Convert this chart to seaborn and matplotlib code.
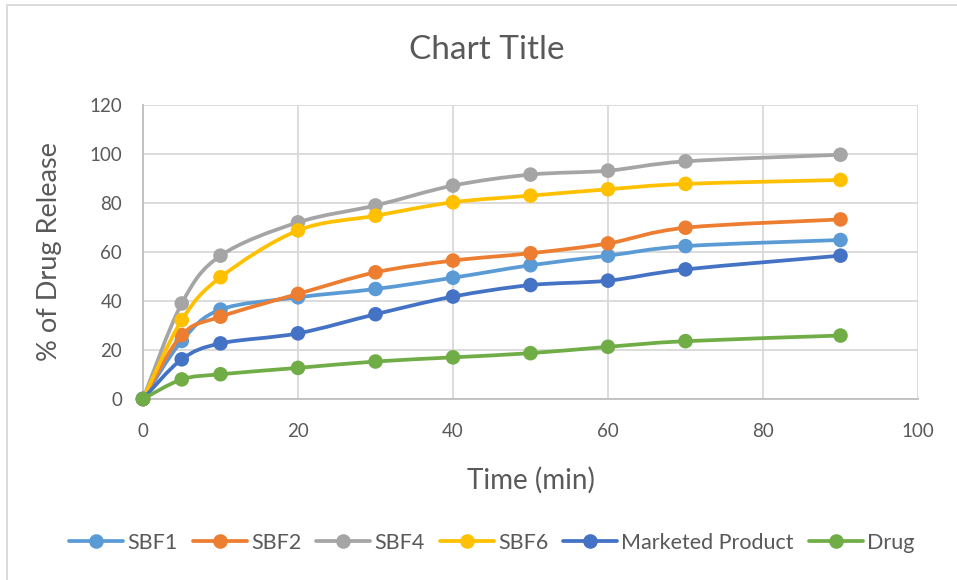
import numpy as np
import pandas as pd
import seaborn as sns
import matplotlib
matplotlib.use("Agg")
import matplotlib.pyplot as plt
from matplotlib.path import Path
from matplotlib.patches import PathPatch
from matplotlib.lines import Line2D

# Dissolution data: time points (min) and % drug released per formulation
time_min = [0, 5, 10, 20, 30, 40, 50, 60, 70, 90]
sbf1 = [0, 23.7, 36.5, 41.5, 44.9, 49.5, 54.6, 58.5, 62.4, 64.9]
sbf2 = [0, 26.1, 33.6, 42.9, 51.7, 56.5, 59.5, 63.5, 69.9, 73.3]
sbf4 = [0, 39.0, 58.5, 72.1, 79.0, 87.1, 91.6, 93.2, 97.0, 99.7]
sbf6 = [0, 32.2, 49.7, 68.8, 74.8, 80.3, 83.0, 85.6, 87.8, 89.4]
marketed = [0, 16.2, 22.7, 26.8, 34.6, 41.8, 46.5, 48.3, 52.9, 58.5]
drug = [0, 8.0, 10.1, 12.7, 15.3, 17.0, 18.7, 21.3, 23.6, 25.9]

series_names = ["SBF1", "SBF2", "SBF4", "SBF6", "Marketed Product", "Drug"]
series_values = [sbf1, sbf2, sbf4, sbf6, marketed, drug]
series_colors = ["#5B9BD5", "#ED7D31", "#A5A5A5", "#FFC000", "#4472C4", "#70AD47"]

x_ticks = [0, 20, 40, 60, 80, 100]
y_ticks = [0, 20, 40, 60, 80, 100, 120]

df = pd.DataFrame(
    [(t, v, name) for name, vals in zip(series_names, series_values)
     for t, v in zip(time_min, vals)],
    columns=["Time (min)", "Release", "Series"],
)

sns.set_theme(style="white")
plt.rcParams["font.family"] = ["Lato", "DejaVu Sans"]
text_color = "#595959"
grid_color = "#D9D9D9"

fig = plt.figure(figsize=(9.57, 5.8), dpi=100)
ax = fig.add_axes([143 / 957, 1 - 399 / 580, 775 / 957, 294 / 580])


def smooth_path(xs, ys):
    """Catmull-Rom style cubic Bezier through the points (Excel smoothed line)."""
    pts = np.column_stack([xs, ys]).astype(float)
    n = len(pts)
    verts = [pts[0]]
    codes = [Path.MOVETO]
    for i in range(n - 1):
        p0 = pts[i - 1] if i > 0 else pts[i]
        p1 = pts[i]
        p2 = pts[i + 1]
        p3 = pts[i + 2] if i + 2 < n else pts[i + 1]
        c1 = p1 + (p2 - p0) / 6.0
        c2 = p2 - (p3 - p1) / 6.0
        verts += [c1, c2, p2]
        codes += [Path.CURVE4] * 3
    return Path(verts, codes)


for i, (name, color) in enumerate(zip(series_names, series_colors)):
    sub = df[df["Series"] == name]
    patch = PathPatch(smooth_path(sub["Time (min)"], sub["Release"]),
                      facecolor="none", edgecolor=color, lw=2.7,
                      capstyle="round", joinstyle="round", zorder=3 + 2 * i,
                      clip_on=False)
    ax.add_patch(patch)
    sns.scatterplot(data=sub, x="Time (min)", y="Release", color=color,
                    s=110, edgecolor="none", linewidth=0, ax=ax,
                    zorder=4 + 2 * i, legend=False, clip_on=False)

ax.set_xlim(0, 100)
ax.set_ylim(0, 120)
ax.set_xticks(x_ticks)
ax.set_yticks(y_ticks)
ax.grid(True, color=grid_color, lw=1.3, zorder=0)
ax.set_axisbelow(True)
for side in ["top", "right"]:
    ax.spines[side].set_visible(False)
for side in ["left", "bottom"]:
    ax.spines[side].set_color("#BFBFBF")
    ax.spines[side].set_linewidth(1.3)
ax.tick_params(axis="both", length=0, labelsize=13.5, labelcolor=text_color)
ax.tick_params(axis="y", pad=15)
ax.tick_params(axis="x", pad=17)

ax.set_xlabel("Time (min)", fontsize=20, color=text_color)
ax.set_ylabel("% of Drug Release", fontsize=19.5, color=text_color)
ax.xaxis.set_label_coords(0.5, (399 - 467) / 294)
ax.yaxis.set_label_coords((62 - 143) / 775, 0.5)

fig.text(487 / 957, 1 - 50 / 580, "Chart Title", fontsize=24,
         color=text_color, ha="center", va="center")

handles = [Line2D([0], [0], color=c, lw=2.7, marker="o", markersize=10.5,
                  markeredgewidth=0) for c in series_colors]
fig.legend(handles, series_names, loc="center", ncol=6,
           bbox_to_anchor=(492 / 957, 1 - 543 / 580), frameon=False,
           fontsize=15.5, labelcolor=text_color, handlelength=2.5,
           handletextpad=0.2, columnspacing=0.7)

# Chart area outline
fig.add_artist(Line2D([7 / 957, 7 / 957], [0, 1 - 5 / 580], color=grid_color,
                      lw=1.3, transform=fig.transFigure))
fig.add_artist(Line2D([7 / 957, 1], [1 - 5 / 580, 1 - 5 / 580], color=grid_color,
                      lw=1.3, transform=fig.transFigure))

fig.savefig("out.png", dpi=100, facecolor="white")
